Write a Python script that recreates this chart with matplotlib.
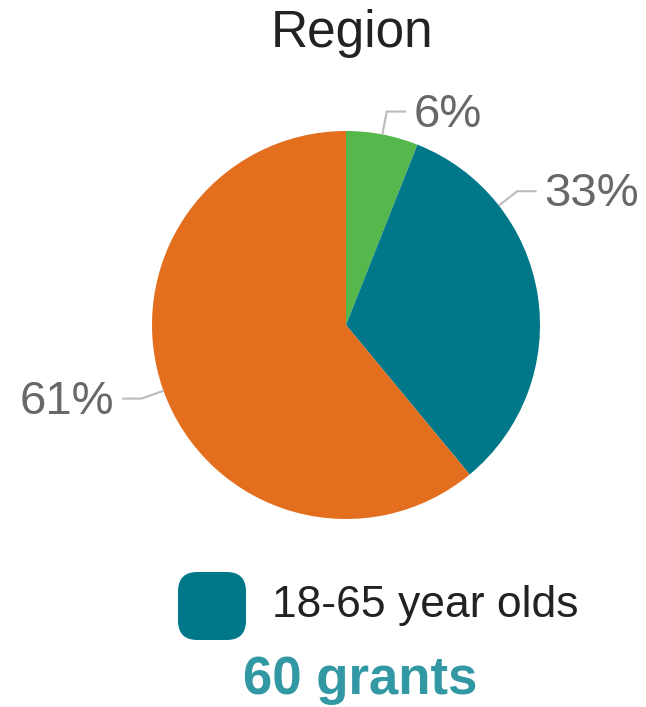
import numpy as np
import matplotlib.pyplot as plt
from matplotlib.patches import FancyBboxPatch

# data
shares = [6, 33, 61]
slice_colors = ['#55b84c', '#00788a', '#e36f1e']
label_angles = [79.2, 38.0, -160.2]   # where the leader lines touch the pie
title = 'Region'
legend_label = '18-65 year olds'
total_label = '60 grants'

W, H = 646, 707
plt.rcParams['font.family'] = ['Liberation Sans', 'DejaVu Sans']


def fx(x):
    return x / W


def fy(y):
    return 1 - y / H


fig = plt.figure(figsize=(W / 100, H / 100), dpi=100)

# pie axes: centre (346, 325) px, radius 194 px
cx, cy, r = 346, 325, 194
ax = fig.add_axes([fx(cx - r), fy(cy + r), 2 * r / W, 2 * r / H])
ax.pie(shares, colors=slice_colors, startangle=90, counterclock=False,
       radius=1, wedgeprops=dict(linewidth=0))
ax.set_xlim(-1, 1)
ax.set_ylim(-1, 1)
ax.set_aspect('equal')
ax.axis('off')

# leader lines + labels
for val, ang in zip(shares, label_angles):
    t = np.deg2rad(ang)
    x0, y0 = np.cos(t), np.sin(t)
    x1, y1 = 1.12 * np.cos(t), 1.12 * np.sin(t)
    side = 1 if x0 >= 0 else -1
    x2 = x1 + side * 0.1
    ax.plot([x0, x1, x2], [y0, y1, y1], color='#bbbbbb', lw=1.5,
            clip_on=False, solid_capstyle='butt')
    ax.text(x2 + side * 0.04, y1 + 0.01, f'{val}%', fontsize=34,
            color='#686868', ha='left' if side > 0 else 'right',
            va='center_baseline')

fig.text(fx(352), fy(34), title, fontsize=37, color='#222222',
         ha='center', va='center')

# legend
box = FancyBboxPatch((fx(178), fy(640)), fx(68), 68 / H,
                     boxstyle='round,pad=0,rounding_size=0.03',
                     transform=fig.transFigure, facecolor=slice_colors[1],
                     edgecolor='none', mutation_aspect=W / H)
fig.add_artist(box)
fig.text(fx(272), fy(606), legend_label, fontsize=32, color='#222222',
         ha='left', va='center')
fig.text(fx(360), fy(680), total_label, fontsize=38, color='#3198a4',
         fontweight='bold', ha='center', va='center')

fig.savefig('out.png', dpi=100)
